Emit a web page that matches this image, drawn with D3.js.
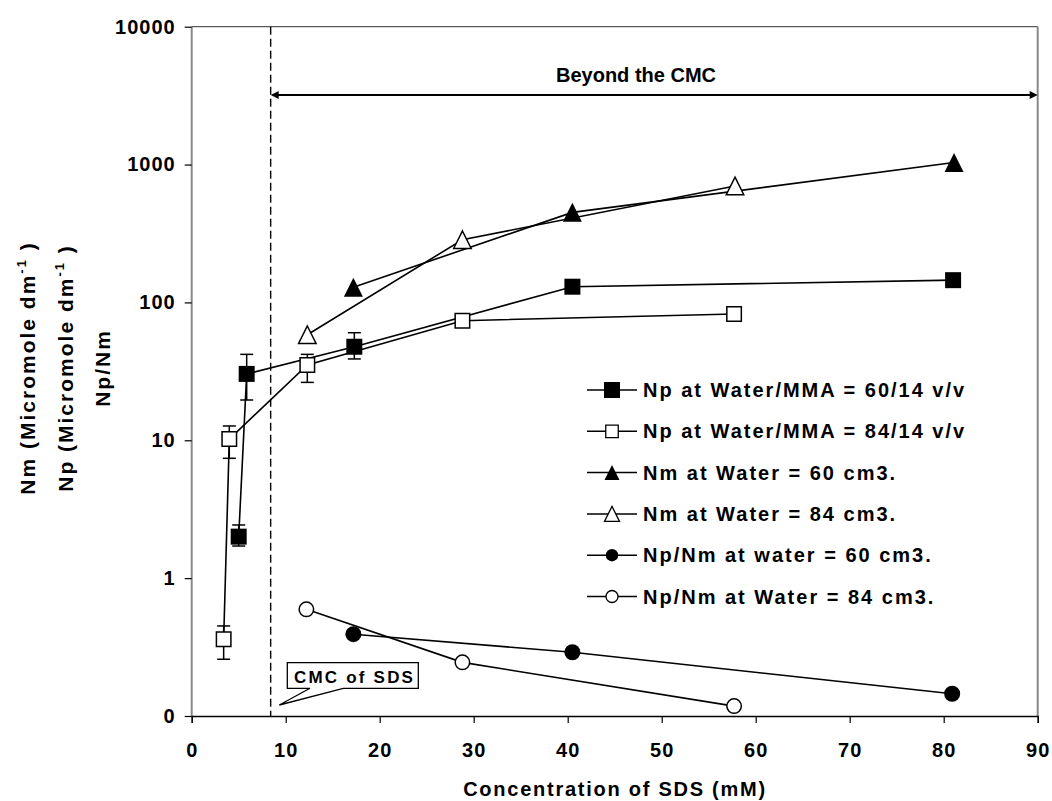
<!DOCTYPE html>
<html>
<head>
<meta charset="utf-8">
<script src="https://cdn.jsdelivr.net/npm/d3@7"></script>
<style>
  body { margin: 0; background: #fff; }
  svg text { font-family: "Liberation Sans", Arial, sans-serif; font-weight: bold; fill: #000; }
</style>
</head>
<body>
<script>
const width = 1052;
const height = 801;

// x ticks / y ticks
const xTicks = [0, 10, 20, 30, 40, 50, 60, 70, 80, 90];
const yTicks = [0.1, 1, 10, 100, 1000, 10000];
const yTickLabels = ["0", "1", "10", "100", "1000", "10000"];

// Np at Water/MMA = 60/14 v/v
const np60X = [5.0, 5.85, 17.3, 40.5, 81.0];
const np60Y = [2.0, 30.3, 47.7, 130, 145];
const np60Lo = [1.71, 19.6, 38.9, null, null];
const np60Hi = [2.43, 42, 60.3, null, null];

// Np at Water/MMA = 84/14 v/v
const np84X = [3.4, 4.0, 12.3, 28.8, 57.7];
const np84Y = [0.36, 10.2, 35.2, 73.7, 82.4];
const np84Lo = [0.258, 7.4, 26.3, null, null];
const np84Hi = [0.45, 12.7, 42, null, null];

// Nm at Water = 60 / 84 cm3
const nm60X = [17.2, 40.5, 81.1];
const nm60Y = [129, 450, 1035];
const nm84X = [12.3, 28.8, 57.8];
const nm84Y = [58.3, 285, 700];

// Np/Nm
const ratio60X = [17.2, 40.5, 80.9];
const ratio60Y = [0.392, 0.29, 0.145];
const ratio84X = [12.2, 28.8, 57.7];
const ratio84Y = [0.594, 0.245, 0.118];

const cmcValue = 8.4;

const legendLabels = [
  "Np at Water/MMA = 60/14 v/v",
  "Np at Water/MMA = 84/14 v/v",
  "Nm at Water = 60 cm3.",
  "Nm at Water = 84 cm3.",
  "Np/Nm at water = 60 cm3.",
  "Np/Nm at Water = 84 cm3."
];

const series = [
  {xs: np60X, ys: np60Y, lo: np60Lo, hi: np60Hi, shape: "square", filled: true, legSize: 16},
  {xs: np84X, ys: np84Y, lo: np84Lo, hi: np84Hi, shape: "square", filled: false, legSize: 12.5},
  {xs: nm60X, ys: nm60Y, shape: "triangle", filled: true, legSize: 15},
  {xs: nm84X, ys: nm84Y, shape: "triangle", filled: false, legSize: 15},
  {xs: ratio60X, ys: ratio60Y, shape: "circle", filled: true, legSize: 12.5},
  {xs: ratio84X, ys: ratio84Y, shape: "circle", filled: false, legSize: 12}
];

const plotLeft = 191.7, plotRight = 1037.7, plotTop = 26.7, plotBottom = 716;

const x = d3.scaleLinear().domain([0, 90]).range([plotLeft, plotRight]);
const y = d3.scaleLog().domain([0.1, 10000]).range([plotBottom, plotTop]);

const svg = d3.select("body").append("svg")
    .attr("width", width)
    .attr("height", height);

function markerPath(shape, s) {
  const h = s / 2;
  if (shape === "square") return `M${-h},${-h}H${h}V${h}H${-h}Z`;
  if (shape === "triangle") return `M0,${-h}L${h},${h}L${-h},${h}Z`;
  return d3.arc()({innerRadius: 0, outerRadius: h, startAngle: 0, endAngle: 2 * Math.PI});
}

// frame
svg.append("line")
    .attr("x1", plotLeft).attr("x2", plotRight)
    .attr("y1", plotTop).attr("y2", plotTop)
    .attr("stroke", "#333").attr("stroke-width", 1);
svg.append("line")
    .attr("x1", plotRight).attr("x2", plotRight)
    .attr("y1", plotTop).attr("y2", plotBottom)
    .attr("stroke", "#888").attr("stroke-width", 2);
svg.append("line")
    .attr("x1", plotLeft).attr("x2", plotLeft)
    .attr("y1", plotTop).attr("y2", plotBottom)
    .attr("stroke", "#888").attr("stroke-width", 2);

// axes
const xAxis = svg.append("g")
    .attr("transform", `translate(0,${plotBottom})`)
    .call(d3.axisBottom(x).tickValues(xTicks).tickSize(7).tickPadding(20).tickFormat(d3.format("d")));
xAxis.select(".domain").attr("stroke", "#000").attr("stroke-width", 1.3);
xAxis.selectAll(".tick line").attr("stroke", "#000").attr("stroke-width", 1.2);
xAxis.selectAll("text")
    .attr("font-size", 20)
    .attr("font-family", "Liberation Sans, Arial, sans-serif")
    .attr("font-weight", "bold")
    .attr("letter-spacing", "1px");

const yAxis = svg.append("g")
    .attr("transform", `translate(${plotLeft},0)`)
    .call(d3.axisLeft(y).tickValues(yTicks).tickSize(7).tickPadding(9)
      .tickFormat((d, i) => yTickLabels[i]));
yAxis.select(".domain").remove();
yAxis.selectAll(".tick line").attr("stroke", "#000").attr("stroke-width", 1.2);
yAxis.selectAll("text")
    .attr("font-size", 20)
    .attr("font-family", "Liberation Sans, Arial, sans-serif")
    .attr("font-weight", "bold")
    .attr("letter-spacing", "1px");

// CMC dashed line
svg.append("line")
    .attr("x1", x(cmcValue)).attr("x2", x(cmcValue))
    .attr("y1", plotTop).attr("y2", plotBottom)
    .attr("stroke", "#000")
    .attr("stroke-width", 1.4)
    .attr("stroke-dasharray", "8 4");

// "Beyond the CMC" arrow
const arrowY = 95;
svg.append("line")
    .attr("x1", x(cmcValue) + 6).attr("x2", plotRight - 6)
    .attr("y1", arrowY).attr("y2", arrowY)
    .attr("stroke", "#000").attr("stroke-width", 2);
svg.append("path")
    .attr("d", `M${x(cmcValue)},${arrowY}l8,-4v8Z`)
    .attr("fill", "#000");
svg.append("path")
    .attr("d", `M${plotRight},${arrowY}l-8,-4v8Z`)
    .attr("fill", "#000");
svg.append("text")
    .attr("x", 636).attr("y", 82)
    .attr("text-anchor", "middle")
    .attr("font-size", 20)
    .text("Beyond the CMC");

// series lines, error bars, markers
series.forEach(s => {
  const pts = s.xs.map((v, i) => [v, s.ys[i]]);
  svg.append("path")
      .attr("d", d3.line().x(d => x(d[0])).y(d => y(d[1]))(pts))
      .attr("fill", "none")
      .attr("stroke", "#000")
      .attr("stroke-width", 1.6);

  if (s.lo) {
    const eb = svg.append("g").attr("stroke", "#000").attr("stroke-width", 1.5);
    s.xs.forEach((v, i) => {
      if (s.lo[i] == null) return;
      const cx = x(v);
      eb.append("line").attr("x1", cx).attr("x2", cx).attr("y1", y(s.lo[i])).attr("y2", y(s.hi[i]));
      eb.append("line").attr("x1", cx - 6.5).attr("x2", cx + 6.5).attr("y1", y(s.lo[i])).attr("y2", y(s.lo[i]));
      eb.append("line").attr("x1", cx - 6.5).attr("x2", cx + 6.5).attr("y1", y(s.hi[i])).attr("y2", y(s.hi[i]));
    });
  }

  const size = s.shape === "triangle" ? 19 : 16;
  svg.append("g").selectAll("path")
    .data(pts)
    .join("path")
      .attr("transform", d => `translate(${x(d[0])},${y(d[1])})`)
      .attr("d", markerPath(s.shape, s.filled ? size : size - 1.5))
      .attr("fill", s.filled ? "#000" : "#fff")
      .attr("stroke", "#000")
      .attr("stroke-width", s.filled ? 0 : 1.5);
});

// CMC callout
const callout = svg.append("g");
callout.append("path")
    .attr("d", "M287.3,662.7H418.3V688.3H343.3L279.3,705L310,688.3H287.3Z")
    .attr("fill", "#fff")
    .attr("stroke", "#000")
    .attr("stroke-width", 1.3);
callout.append("text")
    .attr("x", 294).attr("y", 683)
    .attr("font-size", 17)
    .attr("letter-spacing", "2.2px")
    .text("CMC of SDS");

// legend
const legX = 612, legY0 = 390, legStep = 41.3;
const legend = svg.append("g");
series.forEach((s, i) => {
  const ly = legY0 + i * legStep;
  legend.append("line")
      .attr("x1", legX - 25).attr("x2", legX + 25)
      .attr("y1", ly).attr("y2", ly)
      .attr("stroke", "#000").attr("stroke-width", 1.5);
  legend.append("path")
      .attr("transform", `translate(${legX},${ly})`)
      .attr("d", markerPath(s.shape, s.legSize))
      .attr("fill", s.filled ? "#000" : "#fff")
      .attr("stroke", "#000")
      .attr("stroke-width", s.filled ? 0 : 1.3);
  legend.append("text")
      .attr("x", 643).attr("y", ly + 7)
      .attr("font-size", 20)
      .attr("letter-spacing", "2px")
      .text(legendLabels[i]);
});

// axis titles
svg.append("text")
    .attr("x", 615).attr("y", 796)
    .attr("text-anchor", "middle")
    .attr("font-size", 20)
    .attr("letter-spacing", "1.75px")
    .text("Concentration of SDS (mM)");

const yTitle = svg.append("g")
    .attr("transform", "translate(0,368) rotate(-90)");
const yLines = [
  {pre: "Nm (Micromole dm", sup: "-1", post: " )", base: 35},
  {pre: "Np (Micromole dm", sup: "-1", post: " )", base: 73},
  {pre: "Np/Nm", sup: null, post: null, base: 110}
];
yLines.forEach(l => {
  const t = yTitle.append("text")
      .attr("x", 0).attr("y", l.base)
      .attr("text-anchor", "middle")
      .attr("font-size", 21)
      .attr("letter-spacing", "2px");
  t.append("tspan").text(l.pre);
  if (l.sup) {
    t.append("tspan").attr("dy", -9).attr("font-size", 13).text(l.sup);
    t.append("tspan").attr("dy", 9).text(l.post);
  }
});
</script>
</body>
</html>
